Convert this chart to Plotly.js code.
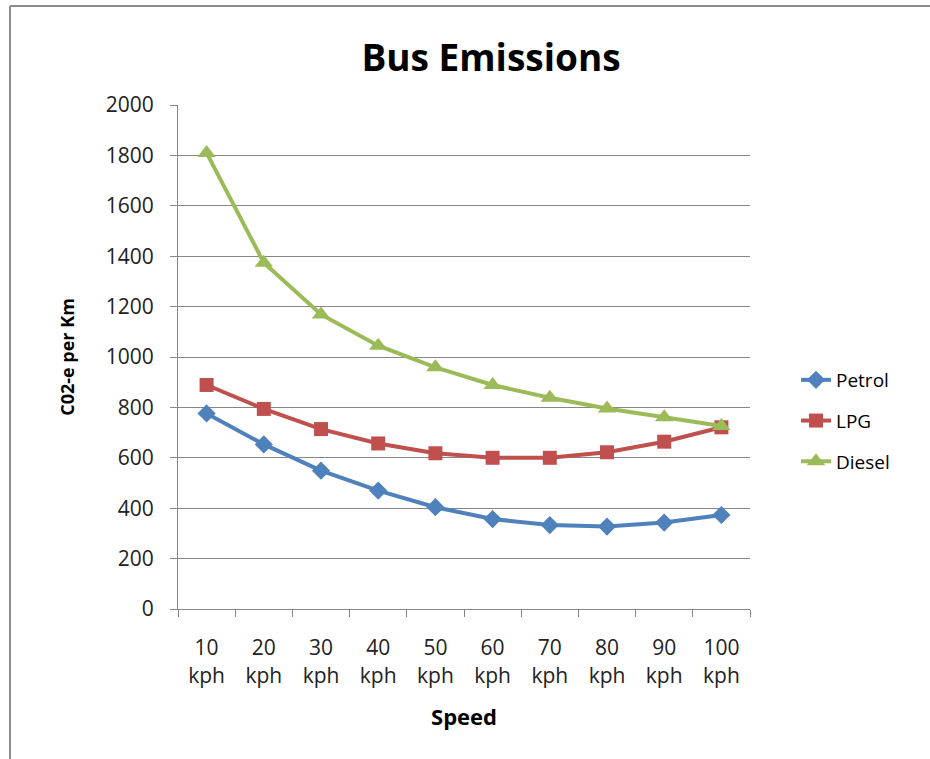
<!DOCTYPE html>
<html>
<head>
<meta charset="utf-8">
<script src="https://cdn.plot.ly/plotly-3.0.1.min.js"></script>
<style>html,body{margin:0;padding:0;background:#fff;}#chart{width:930px;height:759px;}</style>
</head>
<body>
<div id="chart"></div>
<script>
const categories = ["10<br>kph","20<br>kph","30<br>kph","40<br>kph","50<br>kph","60<br>kph","70<br>kph","80<br>kph","90<br>kph","100<br>kph"];
const petrol = [776, 653, 549, 470, 404, 357, 333, 327, 343, 373];
const lpg = [889, 794, 714, 657, 618, 600, 600, 622, 664, 721];
const diesel = [1810, 1374, 1169, 1045, 959, 889, 838, 796, 761, 726];
const yTicks = [0, 200, 400, 600, 800, 1000, 1200, 1400, 1600, 1800, 2000];

const FONT = "'Open Sans', sans-serif";
function series(name, y, color, symbol, size) {
  return {
    type: 'scatter', mode: 'lines+markers', name: name, legendgroup: name,
    x: categories, y: y,
    line: {color: color, width: 4},
    marker: {color: color, symbol: symbol, size: size}
  };
}
const data = [
  series('Petrol', petrol, '#4F81BD', 'diamond', 14),
  series('LPG', lpg, '#C0504D', 'square', 14),
  series('Diesel', diesel, '#9BBB59', 'triangle-up', 16)
];
const W = 572, H = 504, L = 178, T = 105;
function px(x){ return (x - L) / W; }
function py(y){ return (T + H - y) / H; }
const layout = {
  width: 930, height: 759,
  margin: {l: 178, r: 180, t: 105, b: 150},
  paper_bgcolor: '#fff', plot_bgcolor: '#fff',
  font: {family: FONT, color: '#000', size: 20},
  showlegend: true,
  title: {text: '<b>Bus Emissions</b>', font: {family: FONT, size: 37, color: '#000'}, x: px(491), xref: 'paper', xanchor: 'center', y: 1 - 58/759, yanchor: 'middle'},
  xaxis: {
    type: 'category', range: [-0.5, 9.5],
    showgrid: false, showline: true, linecolor: '#868686', linewidth: 1,
    ticks: 'outside', tickson: 'boundaries', ticklen: 7, tickcolor: '#868686',
    tickfont: {family: FONT, size: 21, color: '#222'},
    ticklabelstandoff: 20,
    title: {text: '<b>Speed</b>', font: {family: FONT, size: 22, color: '#000'}, standoff: 22},
    zeroline: false, fixedrange: true
  },
  yaxis: {
    range: [0, 2000], tickvals: yTicks, ticktext: yTicks.map(String),
    showgrid: true, gridcolor: '#868686', gridwidth: 1,
    showline: true, linecolor: '#868686', linewidth: 1,
    ticks: 'outside', ticklen: 7, tickcolor: '#868686',
    tickfont: {family: FONT, size: 21, color: '#222'},
    ticklabelstandoff: 12,
    title: {text: '<b>C02-e per Km</b>', font: {family: FONT, size: 18, color: '#000'}, standoff: 26},
    zeroline: false, fixedrange: true
  },
  legend: {
    x: px(796), y: py(361), xanchor: 'left', yanchor: 'top',
    font: {family: FONT, size: 19, color: '#000'},
    traceorder: 'grouped', tracegroupgap: 13,
    bgcolor: 'rgba(0,0,0,0)'
  },
  shapes: [
    {type: 'line', xref: 'paper', yref: 'paper', x0: px(10), x1: px(935), y0: py(6), y1: py(6), line: {color: '#8C8C8C', width: 2}},
    {type: 'line', xref: 'paper', yref: 'paper', x0: px(10), x1: px(10), y0: py(6), y1: py(765), line: {color: '#8C8C8C', width: 2}}
  ]
};
Plotly.newPlot('chart', data, layout, {displayModeBar: false, staticPlot: true});
</script>
</body>
</html>
